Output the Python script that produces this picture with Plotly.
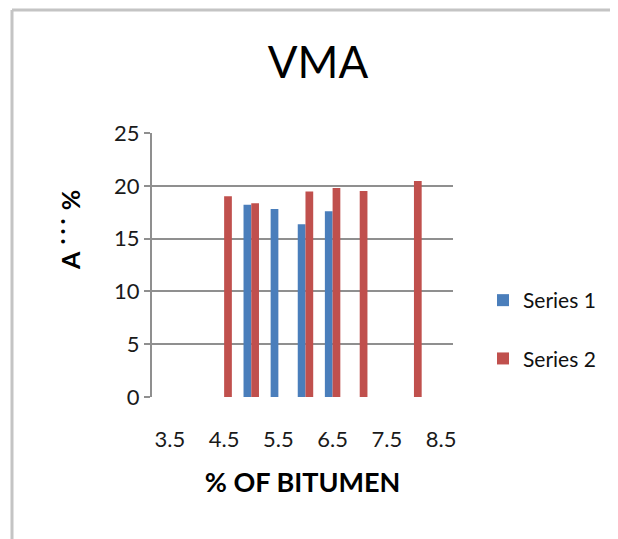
import plotly.graph_objects as go

# Data
s1_x = [5.0, 5.5, 6.0, 6.5]
s1_y = [18.2, 17.8, 16.35, 17.6]
s2_x = [4.5, 5.0, 6.0, 6.5, 7.0, 8.0]
s2_y = [19.0, 18.35, 19.45, 19.8, 19.5, 20.45]
x_ticks = [3.5, 4.5, 5.5, 6.5, 7.5, 8.5]
x_ticktext = ["3.5", "4.5", "5.5", "6.5", "7.5", "8.5"]
y_ticks = [0, 5, 10, 15, 20, 25]

FONT = "Lato"
GRID = "#8f8f8f"
OFF = 8  # page body margin compensation

L, T, PW, PH = 152 - OFF, 133 - OFF, 301, 264
W, H = 618, 539

fig = go.Figure()
fig.add_trace(go.Bar(x=s1_x, y=s1_y, name="Series 1", marker_color="#4a7ebb",
                     marker_line_width=0, legendgroup="a"))
fig.add_trace(go.Bar(x=s2_x, y=s2_y, name="Series 2", marker_color="#c0504d",
                     marker_line_width=0, legendgroup="b"))

fig.update_layout(
    width=W, height=H,
    margin=dict(l=L, r=W - L - PW, t=T, b=H - T - PH),
    paper_bgcolor="white", plot_bgcolor="white",
    barmode="group", bargap=0.43, bargroupgap=0,
    font=dict(family=FONT, color="#111111"),
    title=dict(text="VMA", x=(318 - OFF)/W, xanchor="center", y=1-(63 - OFF)/H, yanchor="middle",
               font=dict(family=FONT, size=44, color="#000000")),
    legend=dict(xref="container", yref="container", x=475/W, y=1-272/H,
                xanchor="left", yanchor="top", font=dict(family=FONT, size=21, color="#111111"),
                tracegroupgap=28, itemwidth=30, traceorder="grouped",
                bgcolor="rgba(0,0,0,0)"),
    xaxis=dict(range=[3.17, 8.72], tickmode="array", tickvals=x_ticks, ticktext=x_ticktext,
               showgrid=False, zeroline=False, showline=False, ticks="",
               ticklabelstandoff=27,
               tickfont=dict(family=FONT, size=22, color="#1a1a1a"),
               title=dict(text="<b>% OF BITUMEN</b>", standoff=22,
                          font=dict(family=FONT, size=27, color="#000000"))),
    yaxis=dict(range=[0, 25], tickmode="array", tickvals=y_ticks,
               showgrid=True, gridcolor=GRID, gridwidth=2,
               zeroline=False, showline=True, linecolor=GRID, linewidth=2,
               ticks="outside", ticklen=6, tickwidth=2, tickcolor=GRID,
               tickfont=dict(family=FONT, size=22, color="#1a1a1a")),
    showlegend=True,
)

# rotated y-axis title (garbled in the original), placed above the axis centre
fig.add_annotation(text="<b>A ˙˙˙ %</b>", xref="paper", yref="paper",
                   x=(70 - 152)/PW, y=(397 - 230)/PH, xanchor="center", yanchor="middle",
                   textangle=-90, showarrow=False,
                   font=dict(family=FONT, size=25, color="#000000"))

# outer chart frame (top and left edges visible in the reference)
fig.add_shape(type="line", xref="paper", yref="paper",
              x0=(12-152)/PW, x1=(640-152)/PW, y0=(397-10)/PH, y1=(397-10)/PH,
              line=dict(color="#c4c4c4", width=3))
fig.add_shape(type="line", xref="paper", yref="paper",
              x0=(12-152)/PW, x1=(12-152)/PW, y0=(397-10)/PH, y1=(397-560)/PH,
              line=dict(color="#c4c4c4", width=3))

fig.write_html("out.html")
